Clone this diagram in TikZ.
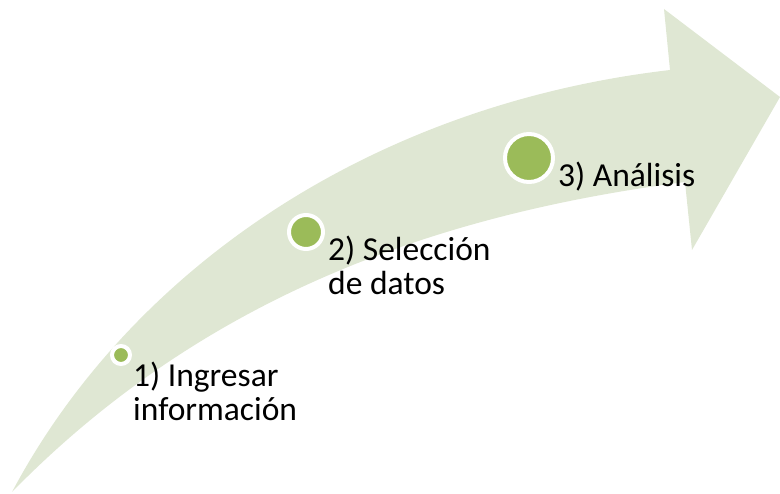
\documentclass[tikz,border=0pt]{standalone}
\usepackage{fontspec}
\setmainfont{Carlito}
\definecolor{arrowfill}{HTML}{DFE7D3}
\definecolor{dotgreen}{HTML}{9BBB59}
\begin{document}
\begin{tikzpicture}[x=1pt,y=-1pt,
  dot/.style={circle,fill=dotgreen,draw=white,line width=4pt,inner sep=0pt},
  lbl/.style={inner sep=0pt,anchor=base west,align=left,font=\fontsize{33.5}{34}\selectfont}]
\useasboundingbox (0,0) rectangle (780,494);
% arrow body
\fill[arrowfill] (12,492) .. controls (130,270) and (370,105) .. (670,70)
  -- (664,9) -- (780,97) -- (692,250) -- (685,182)
  .. controls (430,215) and (200,300) .. (12,492) -- cycle;
% dots
\node[dot,minimum size=18pt] (d1) at (121,355) {};
\node[dot,minimum size=34pt] (d2) at (306,232) {};
\node[dot,minimum size=48pt] (d3) at (529,158) {};
% labels (base anchor = baseline of the last line)
\node[lbl] (t1) at (133,421) {1) Ingresar\\información};
\node[lbl] (t2) at (328,295) {2) Selección\\de datos};
\node[lbl] (t3) at (558,187) {3) Análisis};
\end{tikzpicture}
\end{document}
